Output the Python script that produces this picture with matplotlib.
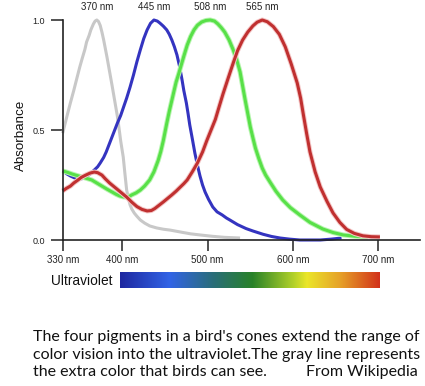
import numpy as np
import matplotlib
matplotlib.use("Agg")
import matplotlib.pyplot as plt
import matplotlib.patheffects as pe
from matplotlib.colors import LinearSegmentedColormap

# absorbance curves (wavelength in nm, absorbance 0..1)
gray_nm = [330, 333, 336, 339, 343, 347, 350, 353, 356, 358, 361, 363, 366, 368, 370,
           372, 374, 376, 378, 380, 382, 385, 388, 390, 392, 394, 396, 398, 401, 403,
           405, 407, 409, 411, 414, 417, 421, 426, 432, 440, 448, 456, 470, 480, 491,
           505, 520, 538]
gray_abs = [0.486, 0.532, 0.578, 0.623, 0.680, 0.741, 0.786, 0.827, 0.866, 0.900,
            0.930, 0.955, 0.982, 0.995, 1.0, 0.993, 0.975, 0.945, 0.910, 0.870, 0.830,
            0.765, 0.700, 0.655, 0.610, 0.565, 0.510, 0.450, 0.377, 0.300, 0.227,
            0.190, 0.160, 0.141, 0.122, 0.108, 0.091, 0.077, 0.064, 0.055, 0.049,
            0.045, 0.035, 0.028, 0.023, 0.017, 0.012, 0.009]

blue_nm = [330, 335, 339, 344, 348, 353, 357, 362, 367, 371, 374, 378, 381, 385, 390,
           394, 398, 401, 405, 409, 413, 417, 421, 425, 429, 433, 437, 441, 444, 448,
           452, 455, 458, 461, 464, 467, 470, 472, 475, 477, 479, 482, 485, 488, 491,
           494, 497, 501, 506, 511, 517, 522, 526, 535, 545, 553, 565, 575, 585, 596,
           608, 620, 632, 645, 657]
blue_abs = [0.314, 0.300, 0.291, 0.282, 0.277, 0.279, 0.286, 0.300, 0.318, 0.333,
            0.350, 0.375, 0.400, 0.440, 0.490, 0.530, 0.566, 0.600, 0.645, 0.695,
            0.750, 0.810, 0.864, 0.915, 0.955, 0.985, 1.0, 0.995, 0.986, 0.972, 0.955,
            0.935, 0.909, 0.878, 0.841, 0.790, 0.727, 0.680, 0.623, 0.575, 0.523,
            0.460, 0.395, 0.340, 0.291, 0.250, 0.218, 0.185, 0.150, 0.128, 0.114,
            0.100, 0.091, 0.070, 0.052, 0.041, 0.026, 0.016, 0.009, 0.004, 0.0, 0.0,
            0.0, 0.004, 0.009]

green_nm = [330, 336, 341, 347, 353, 358, 364, 370, 376, 382, 388, 393, 397, 401, 404,
            408, 411, 416, 421, 426, 432, 437, 442, 445, 448, 452, 455, 458, 461, 463,
            466, 468, 472, 476, 480, 484, 488, 493, 498, 503, 508, 512, 516, 520, 525,
            530, 534, 538, 541, 544, 547, 550, 553, 556, 560, 564, 568, 573, 580, 588,
            597, 608, 620, 635, 647, 659, 673, 688]
green_abs = [0.314, 0.307, 0.300, 0.293, 0.286, 0.280, 0.273, 0.259, 0.245, 0.231,
             0.218, 0.207, 0.200, 0.196, 0.195, 0.198, 0.205, 0.214, 0.227, 0.245,
             0.273, 0.310, 0.362, 0.402, 0.452, 0.530, 0.585, 0.635, 0.685, 0.718,
             0.755, 0.782, 0.835, 0.886, 0.925, 0.955, 0.976, 0.991, 0.998, 1.0, 0.995,
             0.982, 0.965, 0.945, 0.910, 0.864, 0.820, 0.764, 0.700, 0.636, 0.575,
             0.514, 0.465, 0.418, 0.370, 0.327, 0.295, 0.264, 0.222, 0.182, 0.147,
             0.114, 0.080, 0.050, 0.034, 0.023, 0.017, 0.014]

red_nm = [330, 334, 339, 343, 348, 352, 357, 362, 367, 371, 376, 380, 385, 390, 395,
          400, 405, 411, 417, 423, 429, 434, 438, 443, 448, 453, 458, 463, 468, 472,
          476, 482, 488, 494, 499, 504, 509, 513, 518, 524, 530, 535, 541, 547, 553,
          558, 564, 570, 577, 584, 591, 598, 605, 609, 612, 616, 620, 626, 632, 640,
          647, 655, 663, 672, 682, 692, 702]
red_abs = [0.223, 0.234, 0.245, 0.259, 0.273, 0.285, 0.295, 0.304, 0.309, 0.306,
           0.295, 0.278, 0.259, 0.243, 0.227, 0.211, 0.195, 0.172, 0.152, 0.139,
           0.132, 0.134, 0.143, 0.158, 0.173, 0.189, 0.205, 0.222, 0.241, 0.256,
           0.273, 0.310, 0.350, 0.400, 0.452, 0.500, 0.548, 0.600, 0.664, 0.735,
           0.805, 0.860, 0.909, 0.945, 0.973, 0.990, 1.0, 0.992, 0.970, 0.935, 0.878,
           0.800, 0.714, 0.645, 0.575, 0.485, 0.400, 0.310, 0.241, 0.175, 0.123,
           0.080, 0.048, 0.030, 0.019, 0.015, 0.014]

peak_labels = ["370 nm", "445 nm", "508 nm", "565 nm"]
x_ticks = [330, 400, 500, 600, 700]
x_tick_labels = ["330 nm", "400 nm", "500 nm", "600 nm", "700 nm"]
y_ticks = [0.0, 0.5, 1.0]
y_tick_labels = ["0.0", "0.5", "1.0"]

# spectrum bar colour stops
spec_pos = [0.0, 0.19, 0.36, 0.51, 0.67, 0.72, 0.85, 1.0]
spec_col = ["#1e28a0", "#3264e6", "#2a6e78", "#288228", "#b4d228", "#ebe628",
            "#e6a028", "#d2321a"]

caption = ["The four pigments in a bird's cones extend the range of",
           "color vision into the ultraviolet.The gray line represents",
           "the extra color that birds can see."]

W, H = 425, 386
plt.rcParams["font.family"] = ["Liberation Sans", "DejaVu Sans"]

fig = plt.figure(figsize=(W / 100, H / 100), dpi=100)
ax = fig.add_axes([62.7 / W, 1 - 240 / H, (420 - 62.7) / W, 220 / H])

series = [(gray_nm, gray_abs, "#c8c8c8", None),
          (blue_nm, blue_abs, "#3434c0", None),
          (green_nm, green_abs, "#58e048", "#b8f5b0"),
          (red_nm, red_abs, "#c03030", "#f4c8c8")]
for xs, ys, c, glow in series:
    fx = None
    if glow:
        fx = [pe.Stroke(linewidth=3.6, foreground=glow), pe.Normal()]
    ax.plot(xs, ys, color=c, lw=2.2, clip_on=False, solid_capstyle="butt",
            solid_joinstyle="round", path_effects=fx)

# peak labels above each curve maximum
for (xs, ys, c, g), lab in zip(series, peak_labels):
    px = xs[int(np.argmax(ys))]
    ax.annotate(lab, xy=(px, 1.0), xytext=(0, 9), textcoords="offset points",
                ha="center", va="center", fontsize=7, color="#222222",
                annotation_clip=False)

ax.set_xlim(330, 749)
ax.set_ylim(0, 1.0)
ax.set_xticks(x_ticks)
ax.set_xticklabels(x_tick_labels, fontsize=7)
ax.set_yticks(y_ticks)
ax.set_yticklabels(y_tick_labels, fontsize=6.5)
ax.tick_params(axis="x", direction="out", length=8, width=1.1, pad=3, colors="#222222")
ax.tick_params(axis="y", direction="out", length=8.6, width=1.1, pad=4, colors="#222222")
for s in ["top", "right"]:
    ax.spines[s].set_visible(False)
for s in ["left", "bottom"]:
    ax.spines[s].set_linewidth(1.2)
    ax.spines[s].set_color("#222222")

fig.text(20.5 / W, 1 - 135.5 / H, "Absorbance", rotation=90, ha="center",
         va="center", fontsize=9.6, color="#111111")

# spectrum bar
cmap = LinearSegmentedColormap.from_list("spec", list(zip(spec_pos, spec_col)))
cax = fig.add_axes([120 / W, 1 - 288.3 / H, 259.3 / W, 16 / H])
cax.imshow(np.linspace(0, 1, 256)[None, :], cmap=cmap, aspect="auto")
cax.set_axis_off()
fig.text(51.5 / W, 1 - 281 / H, "Ultraviolet", ha="left", va="center",
         fontsize=9.9, color="#111111")

# caption
for i, line in enumerate(caption):
    fig.text(33 / W, 1 - (341 + 17.5 * i) / H, line, ha="left", va="baseline",
             fontsize=11.5, family=["Lato", "DejaVu Sans"], color="#111111")
fig.text(418 / W, 1 - 376 / H, "From Wikipedia", ha="right", va="baseline",
         fontsize=11.5, family=["Lato", "DejaVu Sans"], color="#111111")

fig.savefig("out.png", dpi=100)
